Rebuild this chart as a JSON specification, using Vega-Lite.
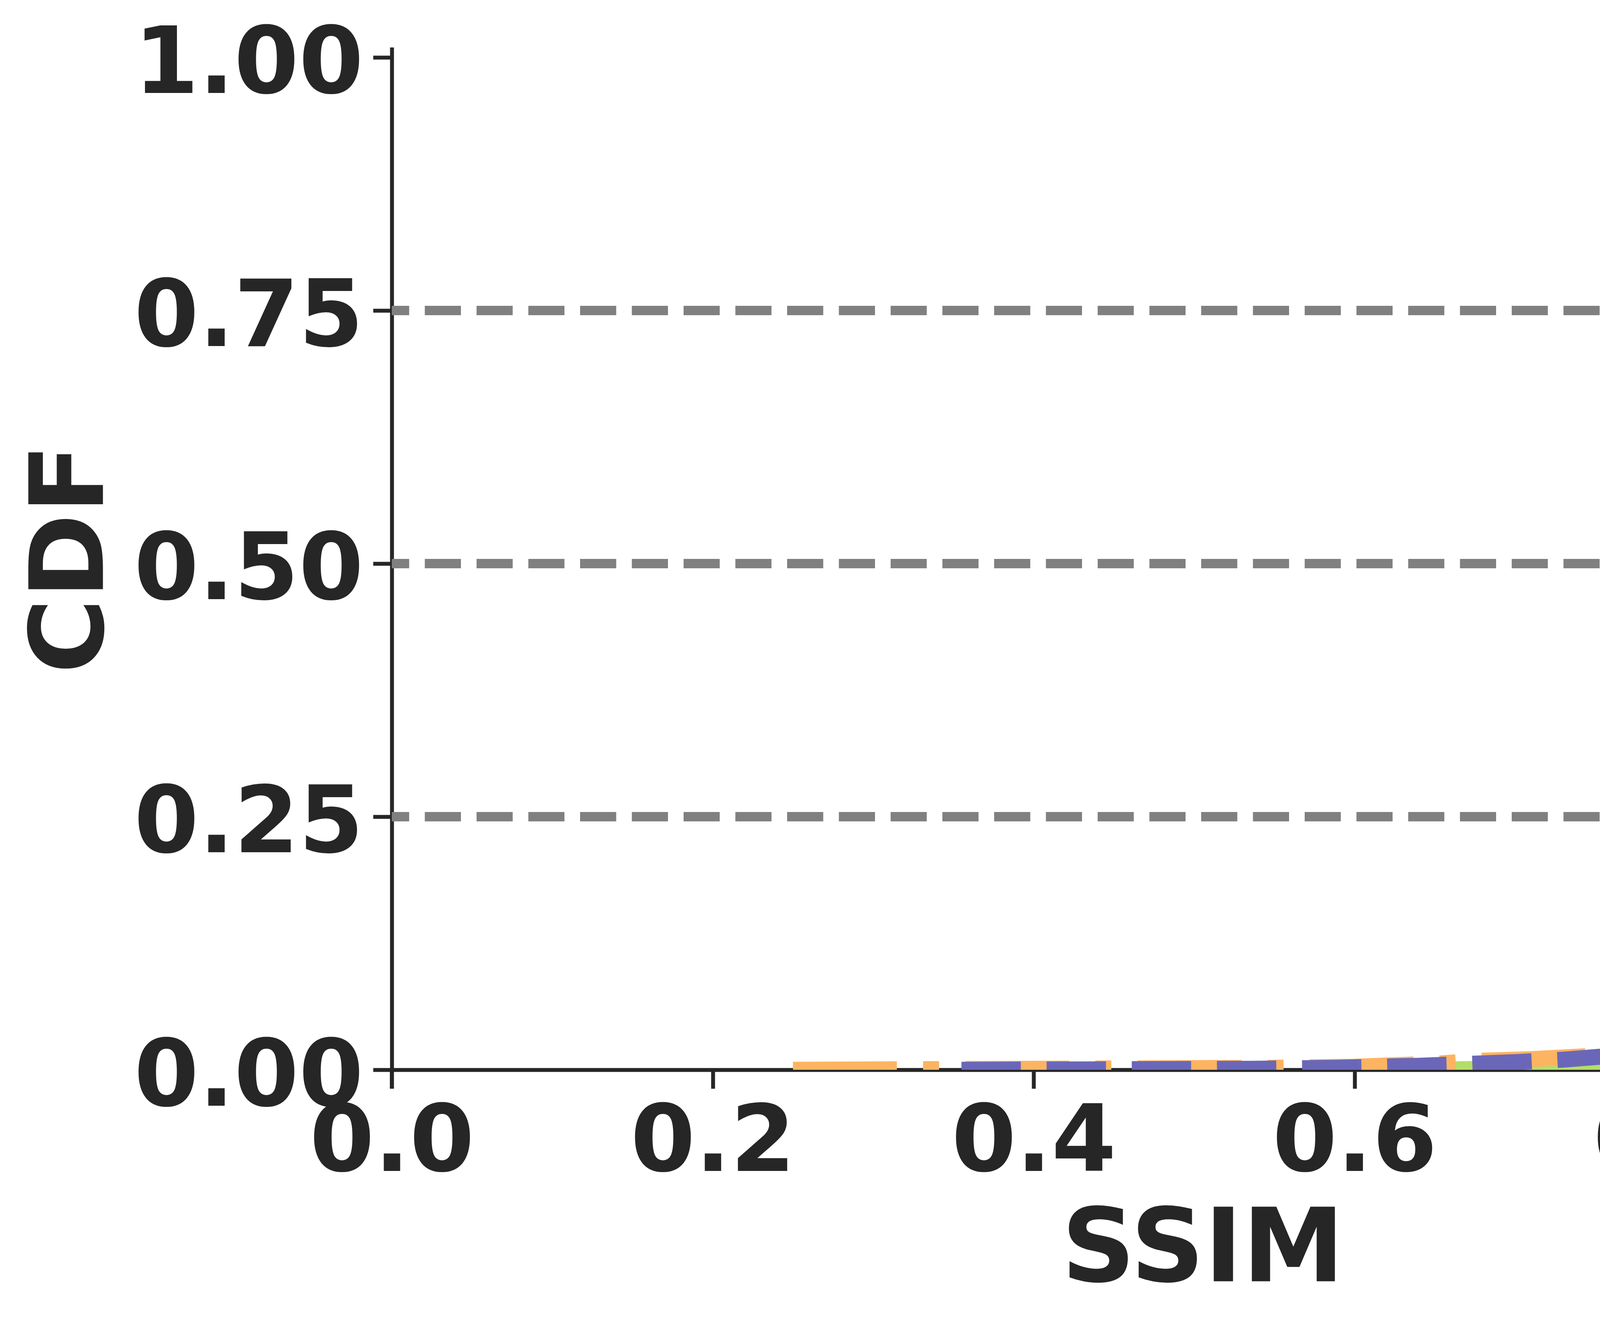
{
  "$schema": "https://vega.github.io/schema/vega-lite/v6.json",
  "width": 4152,
  "height": 2618,
  "autosize": {"type": "none"},
  "padding": {"left": 1003, "top": 121, "right": 636, "bottom": 656},
  "background": "white",
  "config": {"view": {"stroke": null}, "font": "DejaVu Sans"},
  "datasets": {
    "curves": [
      {"s": "A", "ssim": 0.63, "cdf": 0.0},
      {"s": "A", "ssim": 0.66, "cdf": 0.0005},
      {"s": "A", "ssim": 0.70, "cdf": 0.002},
      {"s": "A", "ssim": 0.75, "cdf": 0.006},
      {"s": "A", "ssim": 0.78, "cdf": 0.010},
      {"s": "A", "ssim": 0.80, "cdf": 0.0135},
      {"s": "A", "ssim": 0.8165, "cdf": 0.018},
      {"s": "A", "ssim": 0.8306, "cdf": 0.022},
      {"s": "A", "ssim": 0.8445, "cdf": 0.026},
      {"s": "A", "ssim": 0.8586, "cdf": 0.030},
      {"s": "A", "ssim": 0.8725, "cdf": 0.035},
      {"s": "A", "ssim": 0.886, "cdf": 0.040},
      {"s": "A", "ssim": 0.900, "cdf": 0.046},
      {"s": "A", "ssim": 0.9143, "cdf": 0.051},
      {"s": "A", "ssim": 0.9255, "cdf": 0.056},
      {"s": "A", "ssim": 0.9367, "cdf": 0.066},
      {"s": "A", "ssim": 0.9465, "cdf": 0.074},
      {"s": "A", "ssim": 0.956, "cdf": 0.082},
      {"s": "A", "ssim": 0.9615, "cdf": 0.089},
      {"s": "A", "ssim": 0.9647, "cdf": 0.096},
      {"s": "A", "ssim": 0.967, "cdf": 0.106},
      {"s": "A", "ssim": 0.969, "cdf": 0.120},
      {"s": "A", "ssim": 0.971, "cdf": 0.147},
      {"s": "A", "ssim": 0.973, "cdf": 0.191},
      {"s": "A", "ssim": 0.975, "cdf": 0.235},
      {"s": "A", "ssim": 0.9766, "cdf": 0.279},
      {"s": "A", "ssim": 0.9782, "cdf": 0.331},
      {"s": "A", "ssim": 0.9799, "cdf": 0.399},
      {"s": "A", "ssim": 0.9817, "cdf": 0.50},
      {"s": "A", "ssim": 0.984, "cdf": 0.606},
      {"s": "A", "ssim": 0.9852, "cdf": 0.71},
      {"s": "A", "ssim": 0.9865, "cdf": 0.825},
      {"s": "A", "ssim": 0.987, "cdf": 0.864},
      {"s": "A", "ssim": 0.9884, "cdf": 0.964},
      {"s": "A", "ssim": 0.9893, "cdf": 0.986},
      {"s": "A", "ssim": 0.992, "cdf": 1.0},

      {"s": "B", "ssim": 0.25, "cdf": 0.0},
      {"s": "B", "ssim": 0.32, "cdf": 0.0005},
      {"s": "B", "ssim": 0.40, "cdf": 0.001},
      {"s": "B", "ssim": 0.48, "cdf": 0.0015},
      {"s": "B", "ssim": 0.55, "cdf": 0.002},
      {"s": "B", "ssim": 0.60, "cdf": 0.003},
      {"s": "B", "ssim": 0.65, "cdf": 0.006},
      {"s": "B", "ssim": 0.68, "cdf": 0.009},
      {"s": "B", "ssim": 0.71, "cdf": 0.0105},
      {"s": "B", "ssim": 0.74, "cdf": 0.013},
      {"s": "B", "ssim": 0.77, "cdf": 0.0165},
      {"s": "B", "ssim": 0.79, "cdf": 0.020},
      {"s": "B", "ssim": 0.80, "cdf": 0.025},
      {"s": "B", "ssim": 0.812, "cdf": 0.030},
      {"s": "B", "ssim": 0.825, "cdf": 0.037},
      {"s": "B", "ssim": 0.845, "cdf": 0.048},
      {"s": "B", "ssim": 0.87, "cdf": 0.070},
      {"s": "B", "ssim": 0.89, "cdf": 0.089},
      {"s": "B", "ssim": 0.90, "cdf": 0.102},
      {"s": "B", "ssim": 0.914, "cdf": 0.118},
      {"s": "B", "ssim": 0.928, "cdf": 0.130},
      {"s": "B", "ssim": 0.941, "cdf": 0.143},
      {"s": "B", "ssim": 0.954, "cdf": 0.167},
      {"s": "B", "ssim": 0.961, "cdf": 0.185},
      {"s": "B", "ssim": 0.968, "cdf": 0.205},
      {"s": "B", "ssim": 0.9745, "cdf": 0.224},
      {"s": "B", "ssim": 0.977, "cdf": 0.25},
      {"s": "B", "ssim": 0.9795, "cdf": 0.27},
      {"s": "B", "ssim": 0.9818, "cdf": 0.293},
      {"s": "B", "ssim": 0.984, "cdf": 0.327},
      {"s": "B", "ssim": 0.986, "cdf": 0.360},
      {"s": "B", "ssim": 0.9884, "cdf": 0.464},
      {"s": "B", "ssim": 0.9893, "cdf": 0.530},
      {"s": "B", "ssim": 0.9898, "cdf": 0.634},
      {"s": "B", "ssim": 0.9906, "cdf": 0.710},
      {"s": "B", "ssim": 0.9912, "cdf": 0.78},
      {"s": "B", "ssim": 0.992, "cdf": 0.86},
      {"s": "B", "ssim": 0.9925, "cdf": 0.92},
      {"s": "B", "ssim": 0.9933, "cdf": 0.9745},
      {"s": "B", "ssim": 0.9936, "cdf": 1.0},

      {"s": "C", "ssim": 0.355, "cdf": 0.0},
      {"s": "C", "ssim": 0.45, "cdf": 0.0005},
      {"s": "C", "ssim": 0.535, "cdf": 0.001},
      {"s": "C", "ssim": 0.59, "cdf": 0.002},
      {"s": "C", "ssim": 0.64, "cdf": 0.004},
      {"s": "C", "ssim": 0.70, "cdf": 0.0075},
      {"s": "C", "ssim": 0.73, "cdf": 0.010},
      {"s": "C", "ssim": 0.77, "cdf": 0.015},
      {"s": "C", "ssim": 0.785, "cdf": 0.018},
      {"s": "C", "ssim": 0.80, "cdf": 0.0235},
      {"s": "C", "ssim": 0.82, "cdf": 0.033},
      {"s": "C", "ssim": 0.836, "cdf": 0.042},
      {"s": "C", "ssim": 0.853, "cdf": 0.056},
      {"s": "C", "ssim": 0.87, "cdf": 0.071},
      {"s": "C", "ssim": 0.881, "cdf": 0.088},
      {"s": "C", "ssim": 0.895, "cdf": 0.111},
      {"s": "C", "ssim": 0.907, "cdf": 0.129},
      {"s": "C", "ssim": 0.916, "cdf": 0.151},
      {"s": "C", "ssim": 0.923, "cdf": 0.177},
      {"s": "C", "ssim": 0.930, "cdf": 0.204},
      {"s": "C", "ssim": 0.935, "cdf": 0.229},
      {"s": "C", "ssim": 0.9394, "cdf": 0.258},
      {"s": "C", "ssim": 0.9445, "cdf": 0.284},
      {"s": "C", "ssim": 0.9477, "cdf": 0.31},
      {"s": "C", "ssim": 0.9506, "cdf": 0.341},
      {"s": "C", "ssim": 0.954, "cdf": 0.368},
      {"s": "C", "ssim": 0.956, "cdf": 0.394},
      {"s": "C", "ssim": 0.961, "cdf": 0.453},
      {"s": "C", "ssim": 0.963, "cdf": 0.479},
      {"s": "C", "ssim": 0.967, "cdf": 0.537},
      {"s": "C", "ssim": 0.9687, "cdf": 0.563},
      {"s": "C", "ssim": 0.972, "cdf": 0.621},
      {"s": "C", "ssim": 0.9733, "cdf": 0.647},
      {"s": "C", "ssim": 0.9762, "cdf": 0.706},
      {"s": "C", "ssim": 0.9786, "cdf": 0.763},
      {"s": "C", "ssim": 0.9818, "cdf": 0.825},
      {"s": "C", "ssim": 0.9842, "cdf": 0.877},
      {"s": "C", "ssim": 0.985, "cdf": 0.9016},
      {"s": "C", "ssim": 0.9871, "cdf": 0.96},
      {"s": "C", "ssim": 0.989, "cdf": 0.992},
      {"s": "C", "ssim": 0.991, "cdf": 1.0}
    ],
    "pct": [
      {"p": 0.25, "label": "25th"},
      {"p": 0.5, "label": "50th"},
      {"p": 0.75, "label": "75th"}
    ]
  },
  "layer": [
    {
      "data": {"name": "pct"},
      "mark": {"type": "rule", "stroke": "#808080", "strokeWidth": 24, "strokeDash": [92.5, 40]},
      "encoding": {
        "y": {"field": "p", "type": "quantitative", "title": "CDF", "scale": {"domain": [0, 1.01], "nice": false, "zero": false}}
      }
    },
    {
      "data": {"name": "curves"},
      "transform": [{"filter": "datum.s === 'A'"}],
      "mark": {"type": "line", "stroke": "#b3de69", "strokeWidth": 40, "strokeCap": "round", "strokeJoin": "round", "clip": true},
      "encoding": {
        "x": {
          "field": "ssim", "type": "quantitative", "title": "SSIM",
          "scale": {"domain": [0, 1.0107], "nice": false, "zero": false},
          "axis": {
            "values": [0, 0.2, 0.4, 0.6, 0.8, 1.0], "format": ".1f", "grid": false,
            "labelFont": "DejaVu Sans", "labelFontSize": 238, "labelFontWeight": "bold", "labelColor": "#262626",
            "labelPadding": 22, "labelFlush": false, "labelOverlap": false, "labelLimit": 2000,
            "tickSize": 48, "tickWidth": 10, "tickColor": "#262626",
            "domainColor": "#262626", "domainWidth": 10,
            "titleFont": "DejaVu Sans", "titleFontSize": 262, "titleFontWeight": "bold", "titleColor": "#262626",
            "titleLimit": 4000, "titleBaseline": "alphabetic", "titleY": 541
          }
        },
        "y": {
          "field": "cdf", "type": "quantitative", "title": "CDF",
          "axis": {
            "values": [0, 0.25, 0.5, 0.75, 1.0], "format": ".2f", "grid": false,
            "labelFont": "DejaVu Sans", "labelFontSize": 238, "labelFontWeight": "bold", "labelColor": "#262626",
            "labelPadding": 25, "labelOffset": 20, "labelFlush": false, "labelOverlap": false, "labelLimit": 2000,
            "tickSize": 48, "tickWidth": 10, "tickColor": "#262626",
            "domainColor": "#262626", "domainWidth": 10,
            "titleFont": "DejaVu Sans", "titleFontSize": 262, "titleFontWeight": "bold", "titleColor": "#262626",
            "titleLimit": 4000, "titleBaseline": "alphabetic", "titleAngle": 270, "titleX": -740
          }
        }
      }
    },
    {
      "data": {"name": "curves"},
      "transform": [{"filter": "datum.s === 'B'"}],
      "mark": {"type": "line", "stroke": "#fdb462", "strokeWidth": 41, "strokeCap": "butt", "strokeJoin": "round", "strokeDash": [266, 67, 41, 67], "clip": true},
      "encoding": {
        "x": {"field": "ssim", "type": "quantitative", "title": "SSIM"},
        "y": {"field": "cdf", "type": "quantitative", "title": "CDF"}
      }
    },
    {
      "data": {"name": "curves"},
      "transform": [{"filter": "datum.s === 'C'"}],
      "mark": {"type": "line", "stroke": "#6b67b8", "strokeWidth": 41, "strokeCap": "butt", "strokeJoin": "round", "strokeDash": [152, 66], "clip": true},
      "encoding": {
        "x": {"field": "ssim", "type": "quantitative", "title": "SSIM"},
        "y": {"field": "cdf", "type": "quantitative", "title": "CDF"}
      }
    },
    {
      "data": {"name": "pct"},
      "mark": {"type": "text", "color": "#808080", "font": "DejaVu Sans", "fontSize": 208, "fontWeight": "bold", "align": "left", "baseline": "middle", "limit": 0},
      "encoding": {
        "x": {"datum": 1.02, "type": "quantitative"},
        "y": {"field": "p", "type": "quantitative", "title": "CDF"},
        "text": {"field": "label"}
      }
    },
    {
      "data": {"values": [{}]},
      "mark": {"type": "rule", "color": "#262626", "strokeWidth": 10},
      "encoding": {
        "x": {"datum": 0, "type": "quantitative"},
        "y": {"datum": 0, "type": "quantitative"},
        "y2": {"datum": -0.0185}
      }
    }
  ]
}
